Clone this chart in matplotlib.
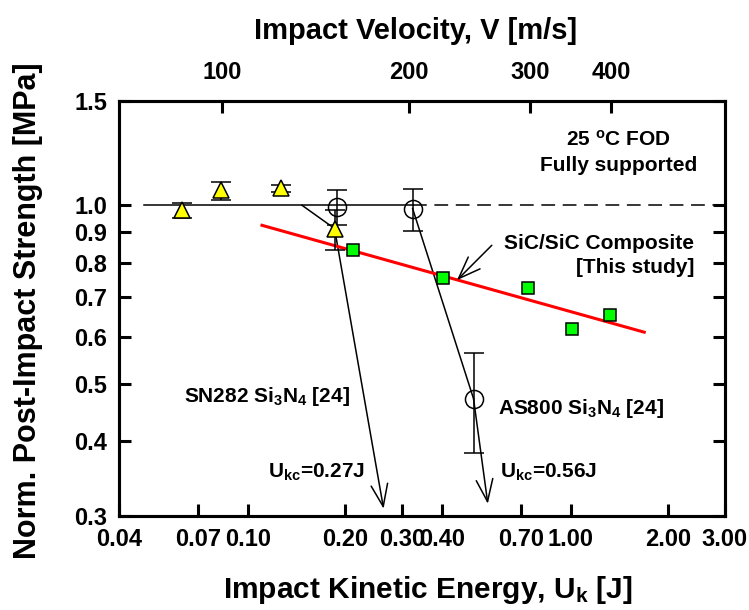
import matplotlib
matplotlib.use('Agg')
import matplotlib.pyplot as plt
from matplotlib.ticker import NullLocator

plt.rcParams['font.family'] = ['Liberation Sans', 'DejaVu Sans']
plt.rcParams['font.weight'] = 'bold'
plt.rcParams['mathtext.fontset'] = 'custom'
plt.rcParams['mathtext.rm'] = 'Liberation Sans:bold'
plt.rcParams['mathtext.it'] = 'Liberation Sans:bold'
plt.rcParams['mathtext.bf'] = 'Liberation Sans:bold'

# SN282 Si3N4 [24]  (yellow triangles)
sn282_energy = [0.0625, 0.0827, 0.1262, 0.1854]
sn282_strength = [0.983, 1.060, 1.071, 0.9135]
sn282_low = [0.950, 1.022, 1.053, 0.840]
sn282_high = [1.0105, 1.093, 1.080, 0.980]

# AS800 Si3N4 [24]  (open circles)
as800_energy = [0.1886, 0.3235, 0.4995]
as800_strength = [0.993, 0.987, 0.472]
as800_low = [0.925, 0.905, 0.383]
as800_high = [1.060, 1.064, 0.563]

# SiC/SiC composite, this study (green squares) and its fit line
sic_energy = [0.2108, 0.4009, 0.739, 1.007, 1.317]
sic_strength = [0.842, 0.753, 0.724, 0.619, 0.653]
fit_energy = [0.1105, 1.687]
fit_strength = [0.925, 0.611]

# undamaged level and the two trend curves
ref_solid_energy = [0.0475, 0.3235]
ref_dash_energy = [0.3235, 3.0]
ref_strength = [1.0, 1.0]
sn282_curve_energy = [0.1469, 0.1854]
sn282_curve_strength = [1.0, 0.9135]
sn282_tip = (0.263, 0.308)
as800_curve_energy = [0.3235, 0.4995]
as800_curve_strength = [0.987, 0.472]
as800_tip = (0.553, 0.314)

x_ticks = [0.04, 0.07, 0.1, 0.2, 0.3, 0.4, 0.7, 1.0, 2.0, 3.0]
x_labels = ['0.04', '0.07', '0.10', '0.20', '0.30', '0.40', '0.70', '1.00', '2.00', '3.00']
y_ticks = [0.3, 0.4, 0.5, 0.6, 0.7, 0.8, 0.9, 1.0, 1.5]
y_labels = ['0.3', '0.4', '0.5', '0.6', '0.7', '0.8', '0.9', '1.0', '1.5']
velocity_labels = ['100', '200', '300', '400']
velocity_tick_energy = [0.0831, 0.3157, 0.7482, 1.330]

fig = plt.figure(figsize=(7.49, 6.10), dpi=100)
ax = fig.add_axes([0.1595, 0.1549, 0.8084, 0.680])
ax.set_xscale('log')
ax.set_yscale('log')
ax.set_xlim(0.04, 3.0)
ax.set_ylim(0.3, 1.5)

lw = 1.1
ax.plot(ref_solid_energy, ref_strength, color='black', lw=lw, zorder=2)
ax.plot(ref_dash_energy, ref_strength, color='black', lw=lw, ls=(0, (9, 5)), zorder=2)
ax.plot(sn282_curve_energy, sn282_curve_strength, color='black', lw=lw, zorder=2)
ax.plot(as800_curve_energy, as800_curve_strength, color='black', lw=lw, zorder=2)

arrow = dict(arrowstyle='->,head_length=0.8,head_width=0.3', color='black', lw=lw,
             shrinkA=0, shrinkB=0, mutation_scale=20)
ax.annotate('', xy=sn282_tip, xytext=(sn282_energy[-1], sn282_strength[-1]), arrowprops=arrow, zorder=2)
ax.annotate('', xy=as800_tip, xytext=(as800_energy[-1], as800_strength[-1]), arrowprops=arrow, zorder=2)

ax.plot(fit_energy, fit_strength, color='#ff0000', lw=2.2, zorder=3)

ax.errorbar(sn282_energy, sn282_strength,
            yerr=[[s - l for s, l in zip(sn282_strength, sn282_low)],
                  [h - s for s, h in zip(sn282_strength, sn282_high)]],
            fmt='^', ms=12, mfc='#ffff00', mec='black', mew=1.1,
            ecolor='black', elinewidth=lw, capsize=7, capthick=lw, zorder=5)
ax.errorbar(as800_energy, as800_strength,
            yerr=[[s - l for s, l in zip(as800_strength, as800_low)],
                  [h - s for s, h in zip(as800_strength, as800_high)]],
            fmt='o', ms=13, mfc='none', mec='black', mew=1.1,
            ecolor='black', elinewidth=lw, capsize=7, capthick=lw, zorder=5)
ax.plot(sic_energy, sic_strength, 's', ms=9, mfc='#00ff00', mec='black', mew=1.1, zorder=6)

ax.set_xticks(x_ticks)
ax.set_xticklabels(x_labels)
ax.set_yticks(y_ticks)
ax.set_yticklabels(y_labels)
ax.xaxis.set_minor_locator(NullLocator())
ax.yaxis.set_minor_locator(NullLocator())
ax.tick_params(which='major', direction='in', length=8.6, width=2.2, labelsize=17,
               pad=9, top=False, right=True)
for sp in ax.spines.values():
    sp.set_linewidth(2.2)

top = ax.twiny()
top.set_xscale('log')
top.set_xlim(ax.get_xlim())
top.set_xticks(velocity_tick_energy)
top.set_xticklabels(velocity_labels)
top.xaxis.set_minor_locator(NullLocator())
top.tick_params(which='major', direction='in', length=8.6, width=2.2, labelsize=17, pad=12)
for sp in top.spines.values():
    sp.set_linewidth(2.2)

txt = dict(fontsize=15)
ax.text(1.401, 1.260, r'25 $^\mathrm{o}$C FOD', ha='center', va='baseline', **txt)
ax.text(1.401, 1.141, 'Fully supported', ha='center', va='baseline', **txt)
ax.text(2.408, 0.845, 'SiC/SiC Composite', ha='right', va='baseline', **txt)
ax.text(2.408, 0.769, '[This study]', ha='right', va='baseline', **txt)
ax.text(0.0635, 0.4658, r'SN282 Si$_3$N$_4$ [24]', ha='left', va='baseline', **txt)
ax.text(0.5926, 0.4454, r'AS800 Si$_3$N$_4$ [24]', ha='left', va='baseline', **txt)
ax.text(0.1155, 0.347, r'U$_{kc}$=0.27J', ha='left', va='baseline', **txt)
ax.text(0.602, 0.347, r'U$_{kc}$=0.56J', ha='left', va='baseline', **txt)
ax.annotate('', xy=(0.4436, 0.7475), xytext=(0.569, 0.856),
            arrowprops=arrow, zorder=4)

fig.text(416 / 749, 1 - 39 / 610, 'Impact Velocity, V [m/s]', ha='center', va='baseline', fontsize=21)
fig.text(428 / 749, 1 - 598 / 610, r'Impact Kinetic Energy, U$_\mathrm{k}$ [J]', ha='center', va='baseline', fontsize=21.5)
fig.text(28 / 749, 1 - 311 / 610, 'Norm. Post-Impact Strength [MPa]', ha='center', va='center',
         rotation=90, fontsize=22)

fig.savefig('out.png', dpi=100)
